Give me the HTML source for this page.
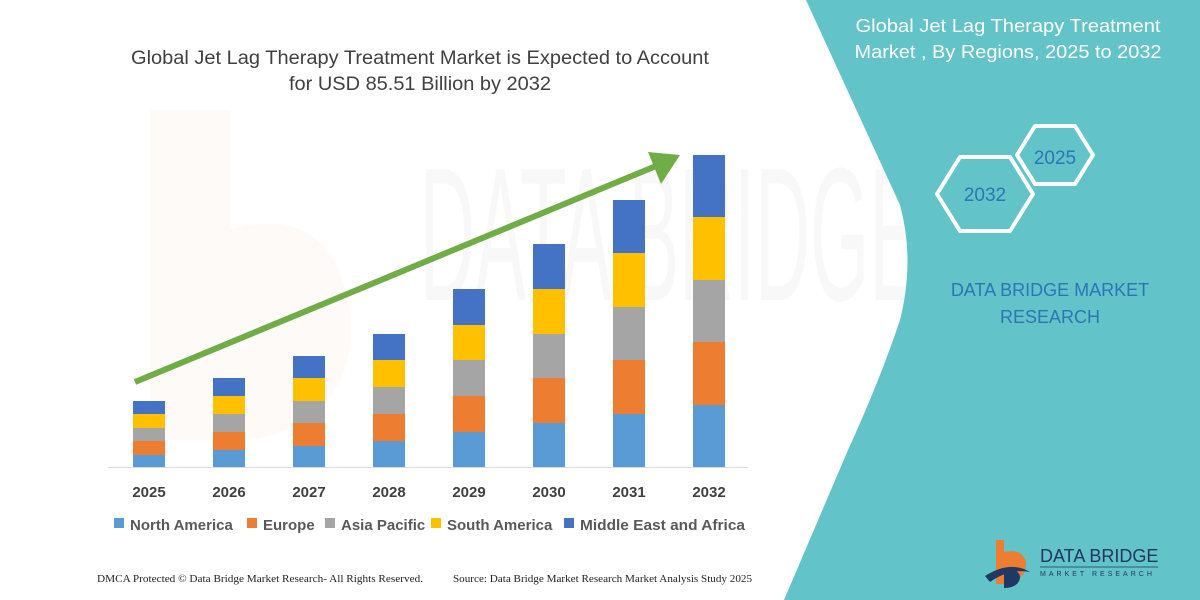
<!DOCTYPE html>
<html><head><meta charset="utf-8"><style>
html,body{margin:0;padding:0;background:#fff;width:1200px;height:600px;overflow:hidden}
text{font-family:"Liberation Sans",sans-serif}
</style></head><body>
<svg width="1200" height="600" viewBox="0 0 1200 600" xmlns="http://www.w3.org/2000/svg">
<rect width="1200" height="600" fill="#fff"/>
<!-- faint watermark -->
<g opacity="0.035">
<path d="M150 110 L230 110 L230 230 Q330 200 350 310 Q360 420 250 440 L150 440 Z" fill="#ed7d31"/>
<text x="420" y="300" font-size="190" fill="#555" textLength="500" lengthAdjust="spacingAndGlyphs">DATA BRIDGE</text>
</g>
<!-- teal panel -->
<path d="M806 0 L1200 0 L1200 600 L784 600 L848 450 Q880 380 900 320 Q915 260 900 205 L806 0 Z" fill="#62c3c8"/>
<text x="1008" y="32" font-size="18" fill="#fff" text-anchor="middle" textLength="305" lengthAdjust="spacingAndGlyphs">Global Jet Lag Therapy Treatment</text>
<text x="1008" y="58" font-size="18" fill="#fff" text-anchor="middle" textLength="307" lengthAdjust="spacingAndGlyphs">Market , By Regions, 2025 to 2032</text>
<polygon points="937,194 960,157 1010,157 1033,194 1010,231 960,231" fill="none" stroke="#fff" stroke-width="4" stroke-linejoin="round"/>
<polygon points="1017,155 1035,126 1075,126 1093,155 1075,184 1035,184" fill="none" stroke="#fff" stroke-width="4" stroke-linejoin="round"/>
<text x="985" y="201" font-size="19" fill="#2e75b6" text-anchor="middle">2032</text>
<text x="1055" y="164" font-size="19" fill="#2e75b6" text-anchor="middle">2025</text>
<text x="1050" y="296" font-size="18" fill="#2e75b6" text-anchor="middle">DATA BRIDGE MARKET</text>
<text x="1050" y="323" font-size="18" fill="#2e75b6" text-anchor="middle">RESEARCH</text>
<!-- logo -->
<path d="M996 540 L1004 540 L1004 552 Q1022 548 1026 562 Q1026 582 1004 584 L996 584 Z" fill="#ed7d31"/>
<path d="M985 576 Q1010 560 1030 572 Q1010 568 990 582 Z" fill="#1f3864"/>
<path d="M1004 570 Q1020 568 1020 578 Q1018 588 1004 588 Z" fill="#1f3864"/>
<text x="1040" y="562" font-size="18" fill="#1f3864">DATA BRIDGE</text>
<line x1="1040" y1="567" x2="1158" y2="567" stroke="#1f3864" stroke-width="0.8"/>
<text x="1040" y="576" font-size="7" fill="#1f3864" letter-spacing="3">MARKET RESEARCH</text>
<!-- title -->
<text x="420" y="64" font-size="19" fill="#404040" text-anchor="middle" textLength="578" lengthAdjust="spacingAndGlyphs">Global Jet Lag Therapy Treatment Market is Expected to Account</text>
<text x="420" y="90" font-size="19" fill="#404040" text-anchor="middle" textLength="262" lengthAdjust="spacingAndGlyphs">for USD 85.51 Billion by 2032</text>
<!-- axis -->
<line x1="108" y1="467.5" x2="748" y2="467.5" stroke="#d9d9d9" stroke-width="1"/>
<g>
<rect x="133" y="455" width="32" height="12" fill="#5b9bd5"/><rect x="133" y="441" width="32" height="14" fill="#ed7d31"/><rect x="133" y="428" width="32" height="13" fill="#a5a5a5"/><rect x="133" y="414" width="32" height="14" fill="#ffc000"/><rect x="133" y="401" width="32" height="13" fill="#4472c4"/>
<rect x="213" y="450" width="32" height="17" fill="#5b9bd5"/><rect x="213" y="432" width="32" height="18" fill="#ed7d31"/><rect x="213" y="414" width="32" height="18" fill="#a5a5a5"/><rect x="213" y="396" width="32" height="18" fill="#ffc000"/><rect x="213" y="378" width="32" height="18" fill="#4472c4"/>
<rect x="293" y="446" width="32" height="21" fill="#5b9bd5"/><rect x="293" y="423" width="32" height="23" fill="#ed7d31"/><rect x="293" y="401" width="32" height="22" fill="#a5a5a5"/><rect x="293" y="378" width="32" height="23" fill="#ffc000"/><rect x="293" y="356" width="32" height="22" fill="#4472c4"/>
<rect x="373" y="441" width="32" height="26" fill="#5b9bd5"/><rect x="373" y="414" width="32" height="27" fill="#ed7d31"/><rect x="373" y="387" width="32" height="27" fill="#a5a5a5"/><rect x="373" y="360" width="32" height="27" fill="#ffc000"/><rect x="373" y="334" width="32" height="26" fill="#4472c4"/>
<rect x="453" y="432" width="32" height="35" fill="#5b9bd5"/><rect x="453" y="396" width="32" height="36" fill="#ed7d31"/><rect x="453" y="360" width="32" height="36" fill="#a5a5a5"/><rect x="453" y="325" width="32" height="35" fill="#ffc000"/><rect x="453" y="289" width="32" height="36" fill="#4472c4"/>
<rect x="533" y="423" width="32" height="44" fill="#5b9bd5"/><rect x="533" y="378" width="32" height="45" fill="#ed7d31"/><rect x="533" y="334" width="32" height="44" fill="#a5a5a5"/><rect x="533" y="289" width="32" height="45" fill="#ffc000"/><rect x="533" y="244" width="32" height="45" fill="#4472c4"/>
<rect x="613" y="414" width="32" height="53" fill="#5b9bd5"/><rect x="613" y="360" width="32" height="54" fill="#ed7d31"/><rect x="613" y="307" width="32" height="53" fill="#a5a5a5"/><rect x="613" y="253" width="32" height="54" fill="#ffc000"/><rect x="613" y="200" width="32" height="53" fill="#4472c4"/>
<rect x="693" y="405" width="32" height="62" fill="#5b9bd5"/><rect x="693" y="342" width="32" height="63" fill="#ed7d31"/><rect x="693" y="280" width="32" height="62" fill="#a5a5a5"/><rect x="693" y="217" width="32" height="63" fill="#ffc000"/><rect x="693" y="155" width="32" height="62" fill="#4472c4"/>
</g>
<!-- arrow -->
<line x1="135" y1="382" x2="656" y2="166" stroke="#70ad47" stroke-width="6"/>
<polygon points="680,155 648,152 661,184" fill="#70ad47"/>
<g font-size="15" font-weight="bold" fill="#404040" text-anchor="middle">
<text x="149" y="497">2025</text><text x="229" y="497">2026</text><text x="309" y="497">2027</text><text x="389" y="497">2028</text><text x="469" y="497">2029</text><text x="549" y="497">2030</text><text x="629" y="497">2031</text><text x="709" y="497">2032</text>
</g>
<g font-size="15" font-weight="bold" fill="#595959">
<rect x="114" y="518" width="10" height="10" fill="#5b9bd5"/><text x="130" y="530">North America</text>
<rect x="247" y="518" width="10" height="10" fill="#ed7d31"/><text x="263" y="530">Europe</text>
<rect x="325" y="518" width="10" height="10" fill="#a5a5a5"/><text x="341" y="530">Asia Pacific</text>
<rect x="431" y="518" width="10" height="10" fill="#ffc000"/><text x="447" y="530">South America</text>
<rect x="564" y="518" width="10" height="10" fill="#4472c4"/><text x="580" y="530" textLength="165" lengthAdjust="spacingAndGlyphs">Middle East and Africa</text>
</g>
<g font-size="10" fill="#222">
<text x="97" y="582" style="font-family:'Liberation Serif',serif" textLength="326" lengthAdjust="spacingAndGlyphs">DMCA Protected © Data Bridge Market Research- All Rights Reserved.</text>
<text x="453" y="582" style="font-family:'Liberation Serif',serif" textLength="299" lengthAdjust="spacingAndGlyphs">Source: Data Bridge Market Research Market Analysis Study 2025</text>
</g>
</svg>
</body></html>
